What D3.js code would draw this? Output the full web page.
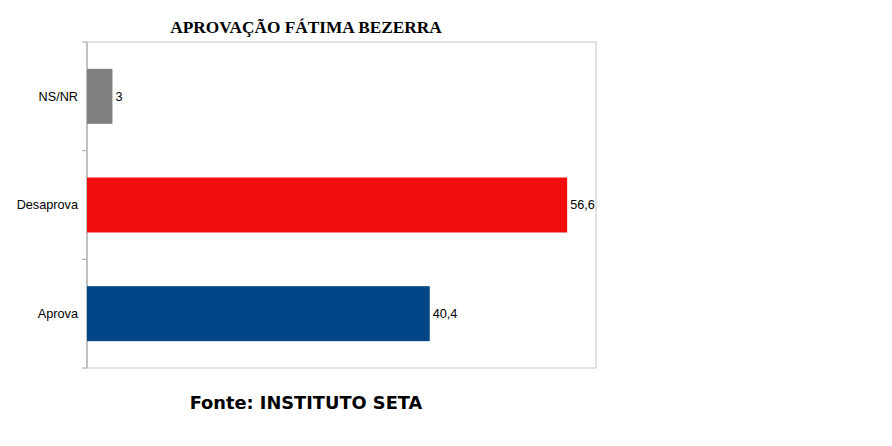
<!DOCTYPE html>
<html><head><meta charset="utf-8">
<script src="https://cdn.jsdelivr.net/npm/d3@7"></script>
<style>body{margin:0;background:#fff}</style>
</head><body>
<svg id="c" width="892" height="446"></svg>
<script>
const categories = ["NS/NR", "Desaprova", "Aprova"];
const values = [3, 56.6, 40.4];
const valueLabels = ["3", "56,6", "40,4"];
const colors = ["#808080", "#f10d0c", "#004586"];
const title = "APROVAÇÃO FÁTIMA BEZERRA";
const source = "Fonte: INSTITUTO SETA";

const svg = d3.select("#c");
const m = {left: 87, top: 42, right: 596, bottom: 368};
const x = d3.scaleLinear().domain([0, 60]).range([m.left, m.right]);
const y = d3.scaleBand().domain(categories).range([m.top, m.bottom]).paddingInner(0.494).paddingOuter(0.247);

// plot frame
svg.append("rect").attr("x", m.left).attr("y", m.top)
  .attr("width", m.right - m.left).attr("height", m.bottom - m.top)
  .attr("fill", "none").attr("stroke", "#cfcfcf").attr("stroke-width", 1.2);

// category axis ticks at band boundaries
const bounds = [m.top, ...categories.map(c => y(c) + y.bandwidth() + y.step() * y.paddingInner() / 2)];
bounds[bounds.length - 1] = m.bottom;
svg.selectAll("line.tk").data(bounds).enter().append("line")
  .attr("x1", m.left - 5).attr("x2", m.left).attr("y1", d => d).attr("y2", d => d)
  .attr("stroke", "#b3b3b3").attr("stroke-width", 1.2);
svg.append("line").attr("x1", m.left).attr("x2", m.left).attr("y1", m.top).attr("y2", m.bottom)
  .attr("stroke", "#b3b3b3").attr("stroke-width", 1.4);

// bars
svg.selectAll("rect.bar").data(categories).enter().append("rect")
  .attr("x", x(0)).attr("y", d => y(d))
  .attr("width", (d, i) => x(values[i]) - x(0)).attr("height", y.bandwidth())
  .attr("fill", (d, i) => colors[i]);

// category labels
svg.selectAll("text.cat").data(categories).enter().append("text")
  .attr("x", m.left - 9).attr("y", d => y(d) + y.bandwidth() / 2)
  .attr("dy", "0.35em").attr("text-anchor", "end")
  .attr("font-family", "Liberation Sans, Arial, sans-serif").attr("font-size", 12.7)
  .attr("fill", "#000").text(d => d);

// value labels
svg.selectAll("text.val").data(categories).enter().append("text")
  .attr("x", (d, i) => x(values[i]) + 3).attr("y", d => y(d) + y.bandwidth() / 2)
  .attr("dy", "0.35em")
  .attr("font-family", "Liberation Sans, Arial, sans-serif").attr("font-size", 12.7)
  .attr("fill", "#000").text((d, i) => valueLabels[i]);

// title
svg.append("text").attr("x", 306).attr("y", 33).attr("text-anchor", "middle")
  .attr("font-family", "Liberation Serif, Times New Roman, serif").attr("font-weight", "bold")
  .attr("font-size", 17.3).attr("fill", "#000").text(title);

// source
svg.append("text").attr("x", 306).attr("y", 409).attr("text-anchor", "middle")
  .attr("font-family", "DejaVu Sans, Verdana, sans-serif").attr("font-weight", "bold")
  .attr("font-size", 17.8).attr("fill", "#000").text(source);
</script>
</body></html>
